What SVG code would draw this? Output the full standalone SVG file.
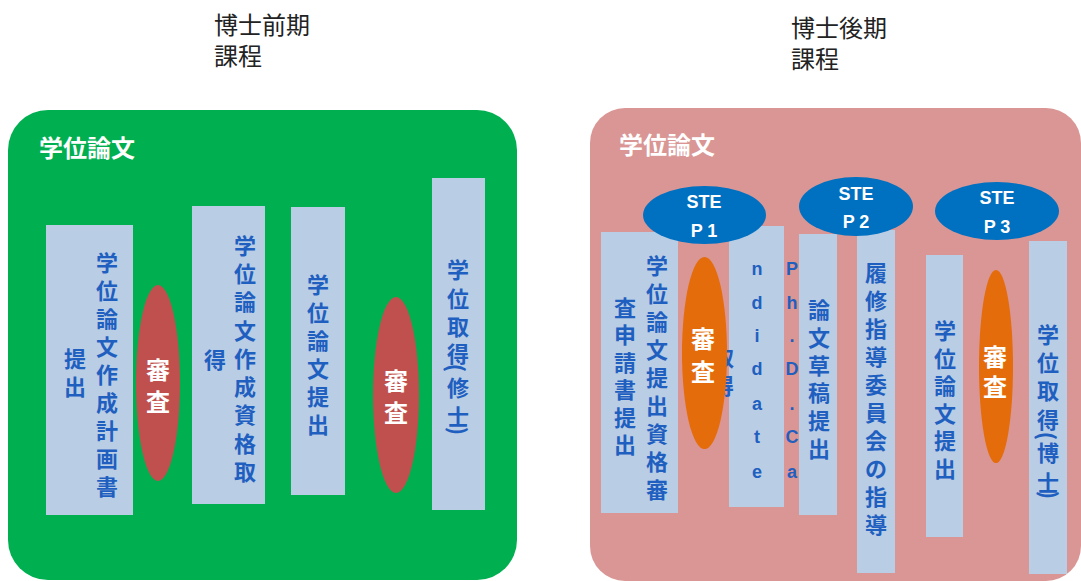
<svg xmlns="http://www.w3.org/2000/svg" width="1081" height="581" viewBox="0 0 1081 581">
<style>
.panelL{fill:#00B050}
.panelR{fill:#D99694}
.box{fill:#B9CDE5}
.red{fill:#C0504D}
.orange{fill:#E46C0A}
.step{fill:#0070C0}
.vt{font-family:"Noto Sans CJK JP",sans-serif;font-size:22px;font-weight:700;fill:#1F5FC0;text-anchor:middle;dominant-baseline:central}
.lat{font-family:"Liberation Sans",sans-serif;font-size:18px;font-weight:700;fill:#1F5FC0;text-anchor:middle}
.ell{font-family:"Noto Sans CJK JP",sans-serif;font-size:24px;font-weight:700;fill:#fff;text-anchor:middle;dominant-baseline:central}
.title{font-family:"Noto Sans CJK JP",sans-serif;font-size:24px;font-weight:700;fill:#fff;dominant-baseline:central}
.head{font-family:"Noto Sans CJK JP",sans-serif;font-size:24px;fill:#222;dominant-baseline:central}
.stp{font-family:"Liberation Sans",sans-serif;font-size:18px;font-weight:700;fill:#fff;text-anchor:middle}
</style>
<rect width="1081" height="581" fill="#fff"/>
<g id="header-master">
<text class="head"><tspan x="214" y="22.5">博士前期</tspan><tspan x="214" y="54">課程</tspan></text>
</g>
<g id="header-doctor">
<text class="head"><tspan x="791" y="26">博士後期</tspan><tspan x="791" y="57">課程</tspan></text>
</g>
<g id="panel-master">
<rect class="panelL" x="8" y="110" width="509" height="470" rx="40"/>
<text class="title" x="39" y="146">学位論文</text>
</g>
<g id="m-plan">
<rect class="box" x="46" y="225" width="87" height="290"/>
<text class="vt" x="107 107 107 107 107 107 107 107 107" y="261 289 317 345 373 401 429 457 485">学位論文作成計画書</text>
<text class="vt" x="75 75" y="357 385">提出</text>
</g>
<g id="m-review1">
<ellipse class="red" cx="158" cy="383" rx="22" ry="98"/>
<text class="ell" x="158 158" y="368 400">審査</text>
</g>
<g id="m-qualify">
<rect class="box" x="192" y="206" width="73" height="298"/>
<text class="vt" x="245 245 245 245 245 245 245 245 245" y="244 272 300 329 357 385 413 442 470">学位論文作成資格取</text>
<text class="vt" x="215" y="357.5">得</text>
</g>
<g id="m-submit">
<rect class="box" x="291" y="207" width="54" height="288"/>
<text class="vt" x="318 318 318 318 318 318" y="283 311 339 367 395 423">学位論文提出</text>
</g>
<g id="m-review2">
<ellipse class="red" cx="396" cy="395" rx="23" ry="98"/>
<text class="ell" x="396 396" y="379 411">審査</text>
</g>
<g id="m-degree">
<rect class="box" x="432" y="178" width="53" height="332"/>
<text class="vt" x="458 458 458 458 452.25 458 458 454.25" y="268 297 325 352 353.85 386 415 416.85" rotate="0 0 0 0 90 0 0 90">学位取得(修士)</text>
</g>
<g id="panel-doctor">
<rect class="panelR" x="590" y="108" width="491" height="473" rx="35"/>
<text class="title" x="619" y="143">学位論文</text>
</g>
<g id="d-apply">
<rect class="box" x="601" y="232" width="77" height="281"/>
<text class="vt" x="657 657 657 657 657 657 657 657 657" y="264 292 320 348 376 404 432 460 488">学位論文提出資格審</text>
<text class="vt" x="625 625 625 625 625 625" y="306 333 361 388 416 443">査申請書提出</text>
</g>
<g id="d-candidate">
<rect class="box" x="729" y="226" width="55" height="281"/>
<text class="lat" x="792 792 792 792 792 792 792" y="275 309 342 375 410 443 478">Ph.D.Ca</text>
<text class="lat" x="757 757 757 757 757 757 757" y="275 309 342 375 410 443 478">ndidate</text>
<text class="vt" x="723 723" y="356 384">取得</text>
</g>
<g id="d-review1">
<ellipse class="orange" cx="704.5" cy="353" rx="22.5" ry="96"/>
<text class="ell" x="703 703" y="337.5 370">審査</text>
</g>
<g id="d-draft">
<rect class="box" x="799" y="234" width="38" height="281"/>
<text class="vt" x="819 819 819 819 819 819" y="308 336 364 391 419 447">論文草稿提出</text>
</g>
<g id="d-guidance">
<rect class="box" x="857" y="230" width="38" height="343"/>
<text class="vt" x="876 876 876 876 876 876 876 876 876 876" y="271 299 327 355 383 411 439 467 495 523">履修指導委員会の指導</text>
</g>
<g id="d-submit">
<rect class="box" x="926" y="255" width="37" height="282"/>
<text class="vt" x="945 945 945 945 945 945" y="329 357 384 412 439 467">学位論文提出</text>
</g>
<g id="d-review2">
<ellipse class="orange" cx="996" cy="366.5" rx="17" ry="96.5"/>
<text class="ell" x="995 995" y="355 385">審査</text>
</g>
<g id="d-degree">
<rect class="box" x="1029" y="241" width="38" height="333"/>
<text class="vt" x="1048 1048 1048 1048 1043.25 1048 1048 1045.25" y="333 361 389 418 421.85 451 481 480.85" rotate="0 0 0 0 90 0 0 90">学位取得(博士)</text>
</g>
<g id="step1">
<ellipse class="step" cx="704.5" cy="215" rx="61.5" ry="29"/>
<text class="stp" x="704" y="208">STE</text>
<text class="stp" x="704" y="237">P 1</text>
</g>
<g id="step2">
<ellipse class="step" cx="856" cy="206.5" rx="57" ry="29.5"/>
<text class="stp" x="856" y="200">STE</text>
<text class="stp" x="856" y="228">P 2</text>
</g>
<g id="step3">
<ellipse class="step" cx="997" cy="211" rx="62" ry="29"/>
<text class="stp" x="997" y="204">STE</text>
<text class="stp" x="997" y="233">P 3</text>
</g>
<g id="connectors"/>
</svg>
